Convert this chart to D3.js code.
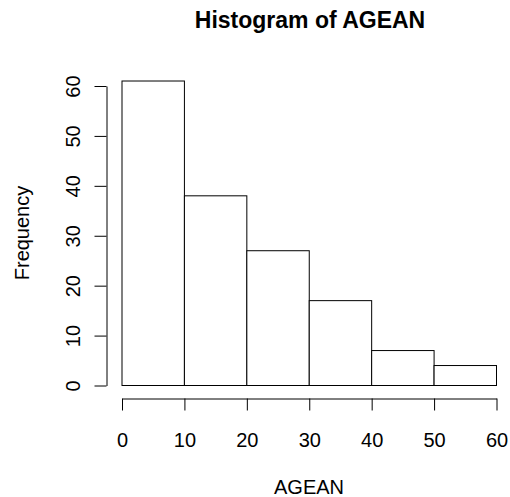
<!DOCTYPE html>
<html>
<head>
<meta charset="utf-8">
<script src="https://cdn.jsdelivr.net/npm/d3@7"></script>
<style>
  body { margin: 0; background: #fff; }
  svg { display: block; font-family: "Liberation Sans", Arial, sans-serif; }
</style>
</head>
<body>
<svg id="chart" width="510" height="497"></svg>
<script>
// histogram bins of AGEAN (breaks of 10)
const binStarts = [0, 10, 20, 30, 40, 50];
const binEnds = [10, 20, 30, 40, 50, 60];
const counts = [61, 38, 27, 17, 7, 4];
const xTicks = [0, 10, 20, 30, 40, 50, 60];
const yTicks = [0, 10, 20, 30, 40, 50, 60];

const svg = d3.select("#chart");

const x = d3.scaleLinear().domain([0, 60]).range([122, 496.5]);
const y = d3.scaleLinear().domain([0, 60]).range([385.5, 86]);

const bins = counts.map((c, i) => ({ x0: binStarts[i], x1: binEnds[i], n: c }));

// bars
svg.append("g")
  .selectAll("rect")
  .data(bins)
  .enter()
  .append("rect")
  .attr("x", d => x(d.x0))
  .attr("y", d => y(d.n))
  .attr("width", d => x(d.x1) - x(d.x0))
  .attr("height", d => y(0) - y(d.n))
  .attr("fill", "white")
  .attr("stroke", "black")
  .attr("stroke-width", 1);

// x axis
const xAxis = svg.append("g")
  .attr("transform", "translate(0,398.5)")
  .call(d3.axisBottom(x).tickValues(xTicks).tickSize(12).tickSizeOuter(0));
xAxis.selectAll("text")
  .attr("y", 48)
  .attr("dy", null)
  .attr("font-size", 20)
  .attr("fill", "black");

// y axis
const yAxis = svg.append("g")
  .attr("transform", "translate(106.5,0)")
  .call(d3.axisLeft(y).tickValues(yTicks).tickSize(12).tickSizeOuter(0));
yAxis.selectAll("text")
  .attr("x", null)
  .attr("dy", null)
  .attr("text-anchor", "middle")
  .attr("transform", "translate(-26.5,0) rotate(-90)")
  .attr("font-size", 20)
  .attr("fill", "black");

svg.selectAll(".domain, .tick line").attr("stroke", "black");
svg.selectAll(".tick text").attr("font-family", "Liberation Sans, Arial, sans-serif");

// title and axis labels
svg.append("text")
  .attr("x", 310)
  .attr("y", 28)
  .attr("text-anchor", "middle")
  .attr("font-size", 23)
  .attr("font-weight", "bold")
  .text("Histogram of AGEAN");

svg.append("text")
  .attr("x", 309)
  .attr("y", 494)
  .attr("text-anchor", "middle")
  .attr("font-size", 20)
  .text("AGEAN");

svg.append("text")
  .attr("transform", "translate(29,233) rotate(-90)")
  .attr("text-anchor", "middle")
  .attr("font-size", 20)
  .text("Frequency");
</script>
</body>
</html>
